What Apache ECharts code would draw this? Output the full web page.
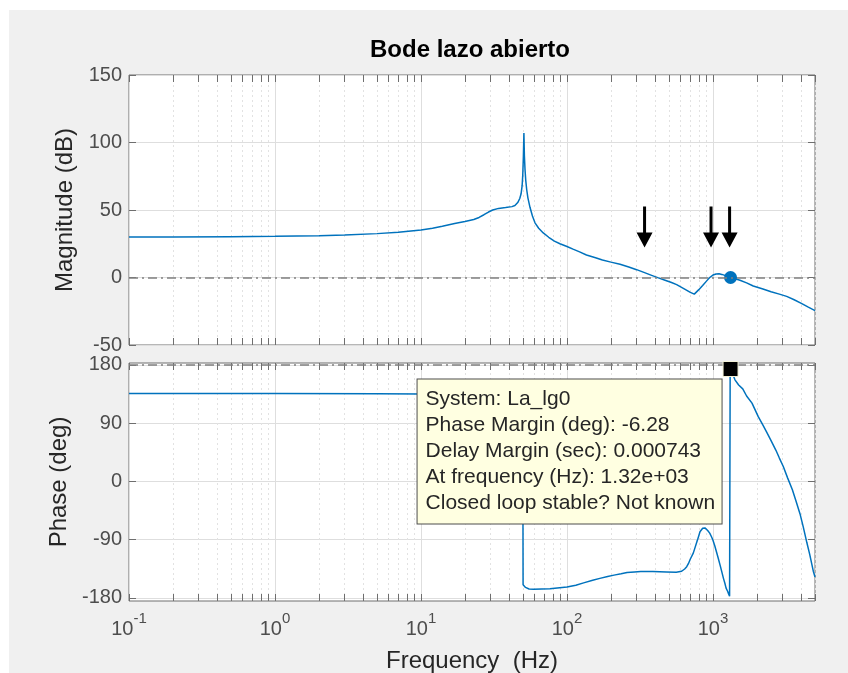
<!DOCTYPE html>
<html>
<head>
<meta charset="utf-8">
<script src="https://cdn.jsdelivr.net/npm/echarts@6/dist/echarts.min.js"></script>
<style>
  html, body { margin: 0; padding: 0; background: #ffffff; }
  #chart { width: 848px; height: 673px; }
</style>
</head>
<body>
<div id="chart"></div>
<script>
// Open-loop Bode response of La_lg0 (magnitude and phase vs. frequency)

// Magnitude curve: frequency (Hz) and gain (dB)
const magFreq = [0.1, 0.2, 0.5, 1, 2, 3, 5, 7, 10, 12, 14, 17, 20, 23, 25, 27, 29, 31, 34, 38, 42, 44, 46, 47.5, 48.5, 49.3, 49.8, 50.3, 50.7, 51.1, 51.6, 52.2, 53, 54, 55.8, 58, 60.4, 64, 68.8, 75, 82, 89.5, 100, 110, 122, 136, 155, 175, 200, 231, 265, 300, 340, 380, 423, 470, 520, 564, 640, 700, 745, 800, 850, 906, 950, 1000, 1050, 1100, 1150, 1250, 1320, 1400, 1531, 1700, 1888, 2200, 2500, 2850, 3198, 3600, 4000, 4500, 5000];
const magDb = [30.0, 30.0, 30.2, 30.5, 31.0, 31.5, 32.5, 33.5, 35.2, 36.5, 38.0, 40.0, 41.5, 43.0, 44.5, 46.5, 48.5, 50.0, 51.2, 51.8, 52.5, 53.3, 55.5, 58.5, 62.0, 68.0, 76.0, 90.0, 107.0, 90.0, 80.0, 72.0, 65.0, 59.0, 52.0, 45.5, 40.5, 36.5, 33.0, 29.8, 27.0, 25.0, 23.0, 21.0, 19.0, 16.7, 14.8, 13.0, 11.4, 9.8, 7.8, 5.8, 3.6, 1.6, -0.3, -2.0, -3.7, -5.3, -8.6, -11.0, -12.3, -9.0, -6.0, -2.5, 0.0, 1.8, 2.6, 2.7, 2.3, 1.0, 0.0, -0.7, -2.0, -4.0, -6.3, -8.5, -10.5, -12.3, -14.0, -16.5, -19.0, -22.0, -24.6];

// Phase curve: frequency (Hz) and phase (deg)
const phaseFreq = [0.1, 1, 5, 10, 20, 30, 40, 46, 49, 49.9, 50.05, 52, 55, 59, 76.5, 100, 115, 130, 150, 168, 190, 210, 235, 258, 290, 320, 388, 480, 560, 610, 640, 661, 680, 700, 733, 750, 780, 800, 815, 850, 881, 900, 920, 950, 979, 1000, 1030, 1060, 1087, 1120, 1150, 1180, 1208, 1230, 1260, 1280, 1300, 1312, 1320, 1415, 1500, 1600, 1700, 1851, 2043, 2200, 2333, 2500, 2700, 2850, 3032, 3250, 3500, 3700, 3944, 4150, 4400, 4600, 4880, 5000];
const phaseDeg = [136, 136, 135.5, 135, 133, 128, 118, 100, 60, 15, -160, -164, -166.5, -167, -166, -163.5, -160.5, -157, -153, -150, -147, -145, -143, -141, -140, -139.5, -139.5, -140, -140.5, -139, -135.5, -132, -127, -120, -111, -104, -92, -84, -78, -72.5, -72, -73, -76, -80, -86, -91, -100, -110, -119, -130, -140, -150, -158, -165, -170, -174, -177.5, 178, 173.72, 157, 149, 143, 132, 121, 100, 87, 76, 63, 48, 36, 23, 5, -13, -30, -50, -70, -95, -113, -140, -148];

// Stability margins reported by the data tip
const crossFreq = 1320;          // Hz
const phaseMargin = -6.28;       // deg
const delayMargin = 0.000743;    // s
const systemName = 'La_lg0';

// Frequencies marked with arrows on the magnitude plot
const arrowFreq = [340, 970, 1300];

// Axis ticks
const decadeTicks = [0.1, 1, 10, 100, 1000];
const phaseTicks = [-180, -90, 0, 90, 180];

const minorTicks = [];
decadeTicks.forEach(d => { for (let k = 2; k <= 9; k++) { const f = +(k * d).toPrecision(3); if (f <= 5000) minorTicks.push(f); } });
const allTicks = decadeTicks.concat(minorTicks).sort((a, b) => a - b);

const FONT = "'Liberation Sans', Arial, Helvetica, sans-serif";
const BLUE = '#0072BD';
const TICK_COLOR = '#4d4d4d';
const AXIS_COLOR = '#6e6e6e';
const GRID_MAJOR = '#dedede';
const GRID_MINOR = '#e2e2e2';
const DASHDOT = [9, 4, 2, 4];

const gridBox = { show: true, backgroundColor: '#ffffff', borderColor: AXIS_COLOR, borderWidth: 1, containLabel: false, outerBoundsMode: 'none' };

function xAxesFor(gridIndex, withLabels) {
  const base = { type: 'log', logBase: 10, gridIndex, min: 0.1, max: 5000 };
  const line = { show: false, onZero: false };
  const tick = { show: true, inside: true, length: 7, customValues: allTicks, lineStyle: { color: AXIS_COLOR, width: 1 } };
  const bottom = Object.assign({}, base, {
    position: 'bottom',
    axisLine: line,
    axisTick: tick,
    splitLine: { show: false },
    axisLabel: withLabels ? {
      show: true,
      customValues: decadeTicks,
      margin: 10,
      formatter: v => '{b|10}{s|' + Math.round(Math.log10(v)) + '}',
      rich: {
        b: { fontFamily: FONT, fontSize: 20, color: TICK_COLOR, verticalAlign: 'bottom', lineHeight: 28 },
        s: { fontFamily: FONT, fontSize: 15, color: TICK_COLOR, verticalAlign: 'top', lineHeight: 28 }
      }
    } : { show: false }
  });
  if (withLabels) {
    Object.assign(bottom, {
      name: 'Frequency  (Hz)',
      nameLocation: 'middle',
      nameGap: 48,
      nameTextStyle: { fontFamily: FONT, fontSize: 24, color: '#262626', verticalAlign: 'top' }
    });
  }
  return [
    bottom,
    Object.assign({}, base, { position: 'top', axisLine: line, axisTick: tick, axisLabel: { show: false }, splitLine: { show: false } }),
    Object.assign({}, base, { axisLine: line, axisTick: { show: false, customValues: decadeTicks }, axisLabel: { show: false },
      splitLine: { show: true, lineStyle: { color: GRID_MAJOR, width: 1 } } }),
    Object.assign({}, base, { axisLine: line, axisTick: { show: false, customValues: minorTicks }, axisLabel: { show: false },
      splitLine: { show: true, lineStyle: { color: GRID_MINOR, width: 1, type: [2, 3] } } })
  ];
}

function yAxesFor(gridIndex, range, ticks, name, nameGap) {
  const custom = ticks ? { customValues: ticks } : {};
  const left = Object.assign({ type: 'value', gridIndex, position: 'left' }, range, {
    axisLine: { show: false, onZero: false },
    axisTick: Object.assign({ show: true, inside: true, length: 7, lineStyle: { color: AXIS_COLOR } }, custom),
    axisLabel: Object.assign({ show: true, margin: 7, fontFamily: FONT, fontSize: 20, color: TICK_COLOR }, custom),
    splitLine: { show: true, lineStyle: { color: GRID_MAJOR, width: 1 } },
    name, nameLocation: 'middle', nameGap, nameRotate: 90,
    nameTextStyle: { fontFamily: FONT, fontSize: 24, color: '#262626' }
  });
  const right = Object.assign({ type: 'value', gridIndex, position: 'right' }, range, {
    axisLine: { show: false, onZero: false },
    axisTick: Object.assign({ show: true, inside: true, length: 7, lineStyle: { color: AXIS_COLOR } }, custom),
    axisLabel: { show: false },
    splitLine: { show: false }
  });
  return [left, right];
}

const magPoints = magFreq.map((f, i) => [f, magDb[i]]);
const phasePoints = phaseFreq.map((f, i) => [f, phaseDeg[i]]);
const phaseAtCross = 180 + phaseMargin;

const tipText = [
  'System: ' + systemName,
  'Phase Margin (deg): ' + phaseMargin.toFixed(2),
  'Delay Margin (sec): ' + delayMargin.toFixed(6),
  'At frequency (Hz): ' + crossFreq.toExponential(2).replace('e+', 'e+0'),
  'Closed loop stable? Not known'
].join('\n');

const chart = echarts.init(document.getElementById('chart'), null, { renderer: 'canvas' });
chart.setOption({
  animation: false,
  backgroundColor: '#ffffff',
  graphic: [
    { type: 'rect', z: -10, silent: true, shape: { x: 9, y: 10, width: 839, height: 663 }, style: { fill: '#f0f0f0' } },
    { type: 'text', x: 470, y: 50, silent: true, style: { text: 'Bode lazo abierto', fontFamily: FONT, fontSize: 24, fontWeight: 'bold', fill: '#000000', textAlign: 'center', textVerticalAlign: 'middle' } }
  ],
  grid: [
    Object.assign({ left: 129, top: 75, width: 686, height: 270 }, gridBox),
    Object.assign({ left: 129, top: 363, width: 686, height: 238 }, gridBox)
  ],
  xAxis: xAxesFor(0, false).concat(xAxesFor(1, true)),
  yAxis: yAxesFor(0, { min: -50, max: 150, interval: 50 }, null, 'Magnitude (dB)', 48)
    .concat(yAxesFor(1, { min: -185, max: 183 }, phaseTicks, 'Phase (deg)', 51)),
  series: [
    {
      type: 'line', name: 'magnitude', xAxisIndex: 0, yAxisIndex: 0,
      data: magPoints, showSymbol: false, symbol: 'none',
      lineStyle: { color: BLUE, width: 1.5 },
      markLine: {
        silent: true, symbol: ['none', 'none'], label: { show: false },
        lineStyle: { color: '#808080', width: 1.5, type: DASHDOT },
        data: [{ yAxis: 0 }]
      },
      z: 3
    },
    {
      type: 'scatter', name: 'gain crossover', xAxisIndex: 0, yAxisIndex: 0,
      data: [[crossFreq, 0]], symbol: 'circle', symbolSize: 13,
      itemStyle: { color: BLUE, opacity: 1 }, z: 4
    },
    {
      type: 'scatter', name: 'arrows', xAxisIndex: 0, yAxisIndex: 0,
      data: arrowFreq.map(f => [f, 37.4]),
      symbol: 'path://M6.5,0 L9.5,0 L9.5,26 L16,26 L8,41 L0,26 L6.5,26 Z',
      symbolSize: [16, 41], symbolKeepAspect: false,
      itemStyle: { color: '#000000', opacity: 1 }, z: 5
    },
    {
      type: 'line', name: 'phase', xAxisIndex: 4, yAxisIndex: 2,
      data: phasePoints, showSymbol: false, symbol: 'none',
      lineStyle: { color: BLUE, width: 1.5 },
      markLine: {
        silent: true, symbol: ['none', 'none'], label: { show: false },
        lineStyle: { color: '#808080', width: 1.5, type: DASHDOT },
        data: [{ yAxis: 180 }]
      },
      z: 3
    },
    {
      type: 'scatter', name: 'phase margin', xAxisIndex: 4, yAxisIndex: 2,
      data: [[crossFreq, phaseAtCross]], symbol: 'rect', symbolSize: 15,
      itemStyle: { color: '#000000', borderColor: '#f4f2d8', borderWidth: 1, opacity: 1 },
      z: 10,
      label: {
        show: true,
        position: [-305, 18.5],
        align: 'left', verticalAlign: 'top',
        width: 288,
        formatter: () => tipText,
        fontFamily: FONT, fontSize: 21, lineHeight: 26, color: '#262626',
        backgroundColor: '#ffffe1', borderColor: '#4d4d4d', borderWidth: 1,
        padding: [7, 8, 7, 8]
      }
    }
  ]
});
</script>
</body>
</html>
